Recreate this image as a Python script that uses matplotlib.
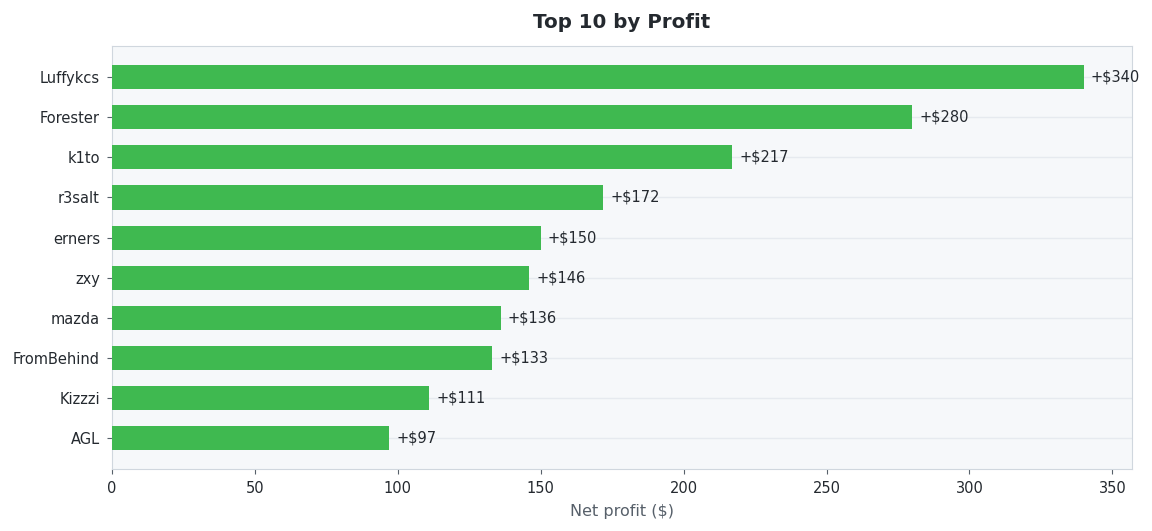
import matplotlib
matplotlib.use("Agg")
import matplotlib.pyplot as plt

plt.rcParams["font.family"] = ["DejaVu Sans"]

players = ["Luffykcs", "Forester", "k1to", "r3salt", "erners",
           "zxy", "mazda", "FromBehind", "Kizzzi", "AGL"]
profits = [340, 280, 217, 172, 150, 146, 136, 133, 111, 97]

fig, ax = plt.subplots(figsize=(11.52, 5.31), dpi=100)
fig.subplots_adjust(left=0.097, right=0.983, top=0.913, bottom=0.117)

ax.set_facecolor("#f6f8fa")
ax.barh(players[::-1], profits[::-1], height=0.6, color="#3fb950", zorder=3)

for i, v in enumerate(profits[::-1]):
    ax.text(v + 2.5, i, f"+${v}", va="center", ha="left",
            fontsize=10.5, color="#24292f", zorder=4)

ax.set_xlim(0, 357)
ax.set_title("Top 10 by Profit", fontsize=14.3, fontweight="bold",
             color="#24292f", pad=13)
ax.set_xlabel("Net profit ($)", fontsize=11.5, color="#57606a", labelpad=6)
ax.tick_params(axis="both", labelsize=10.5, colors="#24292f", pad=5)
ax.tick_params(axis="both", color="#57606a")
ax.grid(axis="y", color="#e6eaef", linewidth=1, zorder=0)
for s in ax.spines.values():
    s.set_color("#d0d7de")

fig.savefig("out.png", dpi=100)
